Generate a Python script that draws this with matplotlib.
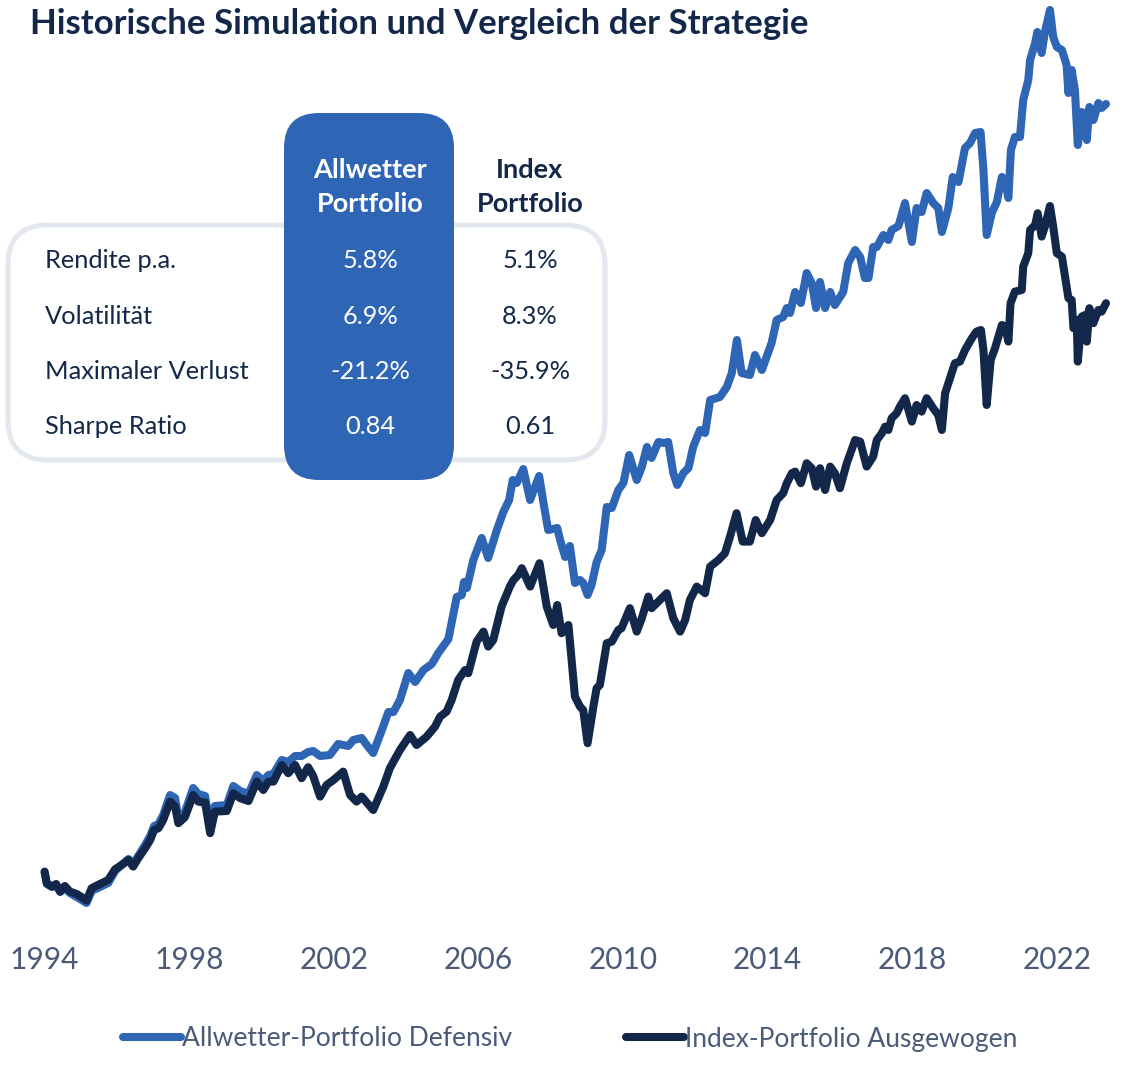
import matplotlib.pyplot as plt
from matplotlib.patches import FancyBboxPatch

# Font: geometric-ish sans
plt.rcParams['font.family'] = ['Lato', 'DejaVu Sans']

# Colours
blue = "#2F65B5"
navy = "#13274A"
grey_text = "#4A5A78"
box_grey = "#E3E8EF"

# Allwetter-Portfolio Defensiv (indexed value)
years_allw = [1994.0, 1994.06, 1994.2, 1994.32, 1994.43, 1994.56, 1994.7, 1994.89, 1995.07, 1995.16,
              1995.3, 1995.53, 1995.76, 1995.95, 1996.13, 1996.32, 1996.45, 1996.59, 1996.78, 1996.92,
              1997.03, 1997.15, 1997.28, 1997.47, 1997.61, 1997.7, 1997.88, 1998.11, 1998.25, 1998.44,
              1998.58, 1998.71, 1999.04, 1999.22, 1999.41, 1999.64, 1999.87, 2000.05, 2000.19, 2000.33,
              2000.56, 2000.74, 2000.93, 2001.11, 2001.29, 2001.43, 2001.62, 2001.89, 2002.12, 2002.4,
              2002.54, 2002.77, 2002.91, 2003.09, 2003.33, 2003.51, 2003.65, 2003.83, 2004.06, 2004.25,
              2004.48, 2004.71, 2004.89, 2005.17, 2005.4, 2005.54, 2005.6, 2005.68, 2005.86, 2006.09,
              2006.27, 2006.51, 2006.69, 2006.85, 2006.95, 2007.06, 2007.24, 2007.43, 2007.68, 2007.8,
              2007.93, 2008.18, 2008.26, 2008.4, 2008.53, 2008.67, 2008.81, 2008.9, 2009.02, 2009.13,
              2009.27, 2009.41, 2009.55, 2009.69, 2009.87, 2010.01, 2010.17, 2010.38, 2010.52, 2010.66,
              2010.79, 2010.98, 2011.13, 2011.25, 2011.39, 2011.5, 2011.67, 2011.81, 2011.94, 2012.13,
              2012.27, 2012.41, 2012.68, 2012.87, 2013.01, 2013.15, 2013.28, 2013.51, 2013.65, 2013.84,
              2014.02, 2014.11, 2014.25, 2014.43, 2014.53, 2014.62, 2014.76, 2014.92, 2015.08, 2015.22,
              2015.34, 2015.45, 2015.59, 2015.73, 2015.86, 2016.09, 2016.23, 2016.42, 2016.56, 2016.69,
              2016.79, 2016.92, 2017.02, 2017.2, 2017.34, 2017.43, 2017.62, 2017.8, 2017.99, 2018.12,
              2018.26, 2018.4, 2018.58, 2018.72, 2018.82, 2019.0, 2019.12, 2019.28, 2019.46, 2019.6,
              2019.74, 2019.89, 2019.97, 2020.06, 2020.2, 2020.34, 2020.48, 2020.57, 2020.66, 2020.73,
              2020.84, 2020.98, 2021.07, 2021.21, 2021.26, 2021.4, 2021.46, 2021.58, 2021.67, 2021.81,
              2021.9, 2022.0, 2022.14, 2022.27, 2022.32, 2022.41, 2022.5, 2022.58, 2022.69, 2022.78,
              2022.83, 2022.9, 2023.01, 2023.15, 2023.24, 2023.36]
allwetter = [101.5, 95.5, 94.0, 95.0, 91.5, 93.5, 91.0, 89.0, 87.0, 86.0,
             92.0, 94.0, 96.0, 102.0, 105.0, 108.0, 105.5, 109.5, 115.0, 119.5,
             124.5, 125.5, 130.0, 140.0, 138.5, 128.5, 131.5, 143.5, 140.5, 139.5,
             123.5, 134.5, 135.0, 144.5, 142.0, 140.5, 150.0, 147.0, 150.0, 150.5,
             157.5, 156.5, 159.5, 159.5, 161.5, 162.0, 159.5, 160.0, 165.5, 164.5,
             167.5, 168.5, 165.0, 161.0, 172.5, 181.5, 181.5, 187.5, 201.0, 196.5,
             202.5, 205.5, 211.0, 218.0, 239.0, 240.0, 246.5, 243.5, 257.5, 268.5,
             258.5, 272.5, 281.5, 287.5, 297.5, 296.0, 303.0, 287.5, 299.5, 286.0,
             272.5, 273.5, 267.5, 259.0, 264.5, 246.0, 247.5, 246.0, 240.0, 245.0,
             256.5, 262.5, 284.0, 283.5, 292.5, 296.0, 310.0, 297.5, 304.0, 314.0,
             308.5, 316.5, 316.0, 316.5, 301.0, 295.0, 301.0, 303.5, 314.0, 322.5,
             321.0, 337.5, 339.0, 344.0, 351.0, 367.5, 351.0, 350.0, 360.0, 352.5,
             361.5, 366.0, 377.5, 379.0, 383.5, 381.0, 391.5, 386.0, 401.0, 396.0,
             383.5, 396.5, 383.5, 391.5, 385.0, 391.5, 406.0, 412.5, 409.0, 398.5,
             398.5, 414.0, 414.0, 420.0, 417.5, 422.5, 424.5, 436.0, 416.5, 433.5,
             431.5, 441.0, 436.0, 433.5, 421.5, 433.5, 449.0, 446.5, 463.5, 466.0,
             471.0, 471.5, 452.5, 420.0, 431.0, 436.5, 449.0, 447.5, 438.5, 462.5,
             469.0, 469.0, 487.5, 497.5, 507.5, 516.0, 521.5, 511.0, 521.5, 532.5,
             519.0, 514.0, 512.5, 505.0, 491.0, 502.5, 492.5, 465.0, 481.5, 477.5,
             467.5, 484.0, 477.5, 486.0, 483.5, 485.5]

# Index-Portfolio Ausgewogen
years_index = [1994.0, 1994.06, 1994.2, 1994.32, 1994.43, 1994.56, 1994.7, 1994.89, 1995.07, 1995.16,
               1995.3, 1995.53, 1995.76, 1995.95, 1996.13, 1996.32, 1996.45, 1996.59, 1996.78, 1996.92,
               1997.03, 1997.15, 1997.28, 1997.47, 1997.61, 1997.7, 1997.88, 1998.11, 1998.25, 1998.44,
               1998.58, 1998.71, 1999.04, 1999.22, 1999.41, 1999.64, 1999.87, 2000.05, 2000.19, 2000.33,
               2000.56, 2000.74, 2000.93, 2001.11, 2001.29, 2001.43, 2001.62, 2001.8, 2001.99, 2002.26,
               2002.45, 2002.63, 2002.77, 2003.09, 2003.37, 2003.55, 2003.83, 2004.11, 2004.29, 2004.57,
               2004.8, 2004.94, 2005.12, 2005.26, 2005.44, 2005.63, 2005.72, 2005.95, 2006.14, 2006.27,
               2006.41, 2006.64, 2006.87, 2006.97, 2007.1, 2007.2, 2007.43, 2007.69, 2007.89, 2008.07,
               2008.18, 2008.3, 2008.49, 2008.67, 2008.81, 2008.9, 2009.02, 2009.18, 2009.27, 2009.36,
               2009.55, 2009.69, 2009.87, 2009.96, 2010.19, 2010.38, 2010.52, 2010.7, 2010.79, 2011.02,
               2011.21, 2011.39, 2011.58, 2011.72, 2011.85, 2012.04, 2012.27, 2012.41, 2012.64, 2012.82,
               2012.96, 2013.14, 2013.31, 2013.51, 2013.67, 2013.84, 2014.07, 2014.25, 2014.43, 2014.53,
               2014.67, 2014.76, 2014.92, 2015.08, 2015.22, 2015.34, 2015.45, 2015.59, 2015.73, 2015.86,
               2016.0, 2016.19, 2016.42, 2016.56, 2016.74, 2016.92, 2017.02, 2017.16, 2017.25, 2017.34,
               2017.43, 2017.57, 2017.66, 2017.8, 2017.99, 2018.12, 2018.26, 2018.4, 2018.58, 2018.72,
               2018.82, 2018.91, 2019.09, 2019.18, 2019.32, 2019.46, 2019.65, 2019.78, 2019.9, 2019.97,
               2020.06, 2020.17, 2020.29, 2020.48, 2020.57, 2020.66, 2020.72, 2020.84, 2021.03, 2021.07,
               2021.21, 2021.26, 2021.4, 2021.47, 2021.58, 2021.67, 2021.81, 2021.9, 2022.0, 2022.14,
               2022.32, 2022.41, 2022.46, 2022.55, 2022.58, 2022.69, 2022.78, 2022.83, 2022.9, 2023.01,
               2023.15, 2023.24, 2023.36]
index_port = [101.7, 96.0, 94.2, 95.5, 91.7, 94.5, 91.7, 90.5, 88.4, 87.2,
              93.4, 95.5, 97.5, 102.9, 105.0, 107.5, 104.2, 108.4, 113.4, 117.5,
              122.5, 123.4, 127.5, 136.7, 134.2, 125.9, 128.9, 140.0, 136.7, 136.2,
              120.9, 131.7, 132.0, 140.9, 138.4, 137.0, 146.7, 142.5, 146.7, 146.7,
              155.0, 150.9, 155.0, 148.4, 153.9, 149.5, 139.2, 145.0, 147.5, 151.7,
              140.0, 136.7, 139.2, 132.5, 144.2, 153.4, 162.5, 170.0, 165.0, 169.2,
              174.2, 179.2, 181.7, 187.5, 197.5, 202.5, 200.9, 216.7, 221.7, 214.2,
              217.5, 234.2, 244.2, 247.5, 250.0, 253.4, 244.2, 255.9, 234.2, 225.0,
              235.0, 220.9, 225.0, 189.2, 184.2, 182.5, 165.9, 184.2, 193.4, 195.0,
              215.9, 216.7, 222.5, 223.4, 233.4, 221.7, 228.4, 239.2, 233.4, 237.5,
              240.9, 228.4, 221.7, 227.5, 237.5, 244.2, 240.9, 254.2, 257.5, 260.9,
              269.2, 280.9, 266.7, 266.7, 277.5, 270.9, 277.5, 287.5, 290.9, 295.9,
              300.9, 301.7, 295.9, 305.9, 303.4, 294.2, 303.4, 292.5, 304.2, 300.9,
              293.4, 305.9, 317.5, 316.7, 304.2, 309.2, 317.5, 320.9, 324.2, 322.5,
              328.4, 330.9, 334.2, 338.4, 326.7, 335.0, 331.7, 338.4, 333.4, 330.0,
              322.5, 340.9, 350.9, 355.9, 356.7, 362.5, 368.4, 371.7, 372.5, 362.5,
              335.0, 357.5, 363.4, 375.0, 374.2, 366.7, 385.9, 391.7, 392.5, 404.2,
              410.9, 422.5, 425.0, 430.9, 419.2, 424.2, 434.5, 424.2, 410.9, 409.2,
              388.4, 387.5, 373.4, 377.5, 356.7, 379.2, 380.0, 366.7, 383.4, 375.9,
              382.5, 381.7, 385.9]

tick_years = [1994, 1998, 2002, 2006, 2010, 2014, 2018, 2022]

# Kennzahlen-Tabelle
row_labels = ["Rendite p.a.", "Volatilität", "Maximaler Verlust", "Sharpe Ratio"]
allw_stats = ["5.8%", "6.9%", "-21.2%", "0.84"]
index_stats = ["5.1%", "8.3%", "-35.9%", "0.61"]

W, H = 1140, 1088
fig = plt.figure(figsize=(W / 100, H / 100), dpi=100)
fig.patch.set_facecolor("white")

ax = fig.add_axes([44.6 / W, 1 - 910 / H, (1106 - 44.6) / W, 905 / H])
ax.plot(years_allw, allwetter, color=blue, lw=5.8, solid_capstyle="round",
        solid_joinstyle="round", label="Allwetter-Portfolio Defensiv", clip_on=False, zorder=2)
ax.plot(years_index, index_port, color=navy, lw=5.8, solid_capstyle="round",
        solid_joinstyle="round", label="Index-Portfolio Ausgewogen", clip_on=False, zorder=3)
ax.set_xlim(1994, 2023.36)
ax.set_ylim(82.5, 535)
ax.set_xticks(tick_years)
ax.set_xticklabels([str(y) for y in tick_years])
ax.tick_params(axis="x", length=0, pad=26, labelsize=21.5, labelcolor=grey_text)
ax.set_yticks([])
for s in ax.spines.values():
    s.set_visible(False)

# Legend
leg = fig.legend(loc="center", bbox_to_anchor=(0.5, 1 - 1039 / H), ncol=2, frameon=False,
                 fontsize=19, handlelength=2.2, handletextpad=0.05, columnspacing=4.3,
                 labelcolor=grey_text)
for h in leg.legend_handles:
    h.set_linewidth(5.8)
    h.set_solid_capstyle("round")

# Title
fig.text(30 / W, 1 - 24 / H, "Historische Simulation und Vergleich der Strategie",
         fontsize=25, fontweight="bold", color=navy, va="center", ha="left")

# Table boxes (positions in inches from bottom-left)
outer = FancyBboxPatch((0.08, (H - 460) / 100), 5.97, 2.35,
                       boxstyle="round,pad=0,rounding_size=0.4",
                       transform=fig.dpi_scale_trans, facecolor="white",
                       edgecolor=box_grey, lw=3.6, zorder=5)
fig.patches.append(outer)
col = FancyBboxPatch((2.84, (H - 480) / 100), 1.70, 3.67,
                     boxstyle="round,pad=0,rounding_size=0.35",
                     transform=fig.dpi_scale_trans, facecolor=blue,
                     edgecolor="none", zorder=6)
fig.patches.append(col)

fig.text(370 / W, 1 - 187 / H, "Allwetter\nPortfolio", fontsize=19.5, fontweight="bold",
         color="white", ha="center", va="center", linespacing=1.45, zorder=7)
fig.text(530 / W, 1 - 187 / H, "Index\nPortfolio", fontsize=19.5, fontweight="bold",
         color=navy, ha="center", va="center", linespacing=1.45, zorder=7)

row_y = [261, 316, 371, 426]
for lab, a, b, yy in zip(row_labels, allw_stats, index_stats, row_y):
    fig.text(45 / W, 1 - yy / H, lab, fontsize=18.3, color=navy, ha="left", va="center", zorder=7)
    fig.text(370 / W, 1 - yy / H, a, fontsize=18.3, color="white", ha="center", va="center", zorder=7)
    fig.text(530 / W, 1 - yy / H, b, fontsize=18.3, color=navy, ha="center", va="center", zorder=7)

fig.savefig("out.png", dpi=100)
